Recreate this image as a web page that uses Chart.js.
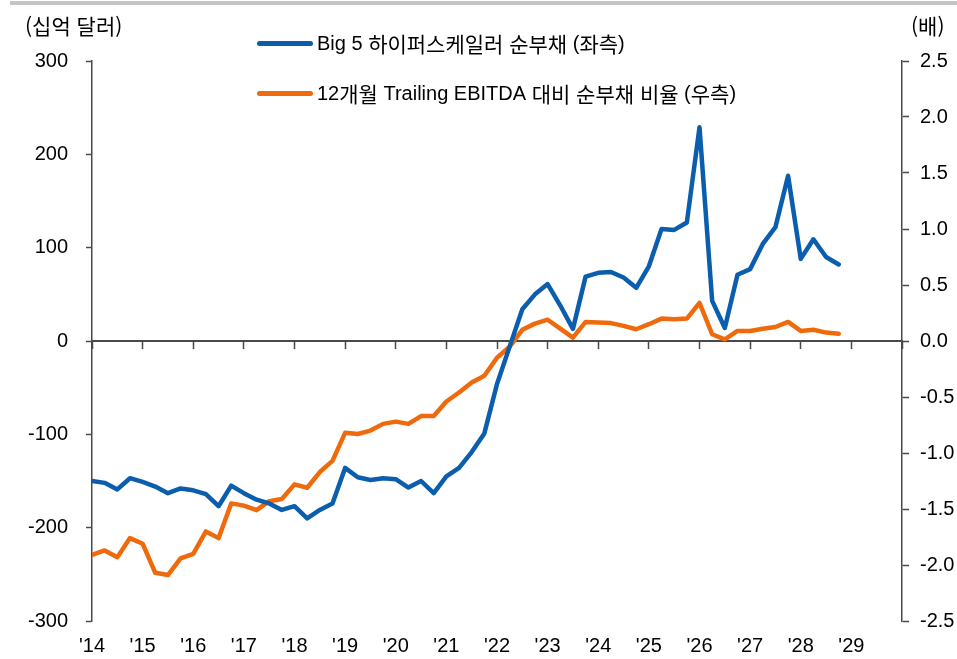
<!DOCTYPE html>
<html lang="ko">
<head>
<meta charset="utf-8">
<script src="https://cdn.jsdelivr.net/npm/chart.js@4.4.1/dist/chart.umd.min.js"></script>
<style>
  html, body { margin: 0; padding: 0; background: #fff; }
  #wrap { position: relative; width: 957px; height: 659px; overflow: hidden;
    font-family: "Liberation Sans", Arial, "Noto Sans CJK KR", sans-serif; color: #000; }
  #topbar { position: absolute; z-index: 3; left: 10px; top: 1px; width: 947px; height: 4px; background: #c4c4c4; }
  .unit { position: absolute; top: 12px; font-size: 21px; line-height: 26px; font-family: "Noto Sans CJK KR", sans-serif; }
  .leg { position: absolute; left: 257px; height: 26px; display: flex; align-items: center; font-size: 21px; white-space: nowrap; }
  .leg .lat { font-size: 20px; }
  .leg .sw { width: 56px; height: 5px; border-radius: 3px; margin-right: 4px; }
  canvas { position: absolute; left: 0; top: 0; }
</style>
</head>
<body>
<div id="wrap">
  <canvas id="myChart" width="957" height="659"></canvas>
  <div id="topbar"></div>
  <div class="unit" style="left:25px">(십억 달러)</div>
  <div class="unit" style="left:911px">(배)</div>
  <div class="leg" style="top:30px"><span class="sw" style="background:#0B5DAD"></span><span class="lat">Big 5&nbsp;</span>하이퍼스케일러 순부채 <span class="lat">&nbsp;(</span>좌측<span class="lat">)</span></div>
  <div class="leg" style="top:80px"><span class="sw" style="background:#EE6A0C"></span><span class="lat">12</span>개월 <span class="lat">&nbsp;Trailing EBITDA&nbsp;</span>대비 순부채 비율 <span class="lat">&nbsp;(</span>우측<span class="lat">)</span></div>
</div>
<script>
// 분기별 데이터 (1Q14 ~ 4Q28)
const firstYear = 14;
const lastYear = 29;

// Big 5 하이퍼스케일러 순부채 (십억 달러, 좌축)
const netDebt = [
  -150, -152, -159, -147, -151, -156, -163, -158,
  -160, -164, -177, -155, -163, -170, -174, -181,
  -177, -190, -181, -174, -136, -146, -149, -147,
  -148, -157, -150, -163, -145, -136, -119, -99,
  -46, -6, 34, 50, 61, 38, 13, 69,
  73, 74, 68, 57, 80, 120, 119, 127,
  229, 43, 14, 71, 77, 104, 122, 177,
  88, 109, 90, 82
];

// 12개월 Trailing EBITDA 대비 순부채 비율 (배, 우축)
const debtToEbitda = [
  -1.91, -1.87, -1.93, -1.76, -1.81, -2.07, -2.09, -1.94,
  -1.90, -1.70, -1.76, -1.45, -1.47, -1.51, -1.43, -1.41,
  -1.28, -1.31, -1.17, -1.07, -0.82, -0.83, -0.80, -0.74,
  -0.72, -0.74, -0.67, -0.67, -0.54, -0.46, -0.37, -0.31,
  -0.15, -0.05, 0.10, 0.155, 0.19, 0.11, 0.03, 0.17,
  0.165, 0.16, 0.135, 0.105, 0.15, 0.20, 0.195, 0.20,
  0.34, 0.06, 0.015, 0.09, 0.09, 0.11, 0.125, 0.17,
  0.09, 0.10, 0.075, 0.065
];

const tickFont = { family: "'Liberation Sans', Arial, sans-serif", size: 20 };
const axisColor = '#4a4a4a';

// x값 = 분기 인덱스
function toPoints(arr) {
  return arr.map((v, i) => ({ x: i, y: v }));
}

const ctx = document.getElementById('myChart');
const chart = new Chart(ctx, {
  type: 'line',
  data: {
    datasets: [
      {
        label: 'Big 5 하이퍼스케일러 순부채 (좌측)',
        data: toPoints(netDebt),
        borderColor: '#0B5DAD',
        borderWidth: 4.5,
        borderJoinStyle: 'round',
        borderCapStyle: 'round',
        pointRadius: 0,
        tension: 0,
        yAxisID: 'y',
        xAxisID: 'x'
      },
      {
        label: '12개월 Trailing EBITDA 대비 순부채 비율 (우측)',
        data: toPoints(debtToEbitda),
        borderColor: '#EE6A0C',
        borderWidth: 4.5,
        borderJoinStyle: 'round',
        borderCapStyle: 'round',
        pointRadius: 0,
        tension: 0,
        yAxisID: 'y1',
        xAxisID: 'x'
      }
    ]
  },
  options: {
    responsive: false,
    animation: false,
    layout: { padding: { top: 61, left: 0, right: 0, bottom: 0 } },
    plugins: { legend: { display: false }, tooltip: { enabled: false } },
    scales: {
      // 아래쪽 연도 라벨
      x: {
        type: 'linear',
        position: 'bottom',
        min: 0,
        max: (lastYear - firstYear + 1) * 4,
        border: { display: false },
        grid: { display: false, drawTicks: false },
        ticks: {
          stepSize: 4,
          padding: 13,
          font: tickFont,
          color: '#000',
          maxRotation: 0,
          autoSkip: false,
          callback: function (v) {
            let yr = firstYear + v / 4;
            return yr <= lastYear ? "'" + yr : '';
          }
        },
        afterFit: function (scale) { scale.height = 38; }
      },
      // 0선 위의 눈금
      xZero: {
        type: 'linear',
        position: { y: 0 },
        min: 0,
        max: (lastYear - firstYear + 1) * 4,
        border: { display: true, color: axisColor, width: 2 },
        grid: { drawOnChartArea: false, drawTicks: true, tickLength: 7, color: axisColor, tickWidth: 1.5 },
        ticks: { stepSize: 4, display: false }
      },
      y: {
        position: 'left',
        min: -300,
        max: 300,
        border: { display: true, color: axisColor, width: 1.5 },
        grid: { drawOnChartArea: false, drawTicks: true, tickLength: 6, color: axisColor, tickWidth: 1.5 },
        ticks: { stepSize: 100, padding: 18, font: tickFont, color: '#000' },
        afterFit: function (scale) { scale.width = 92; }
      },
      y1: {
        position: 'right',
        min: -2.5,
        max: 2.5,
        border: { display: true, color: axisColor, width: 1.5 },
        grid: { drawOnChartArea: false, drawTicks: true, tickLength: 7, color: axisColor, tickWidth: 1.5 },
        ticks: {
          stepSize: 0.5,
          padding: 11,
          font: tickFont,
          color: '#000',
          callback: function (v) { return v.toFixed(1); }
        },
        afterFit: function (scale) { scale.width = 55; }
      }
    }
  }
});
</script>
</body>
</html>
